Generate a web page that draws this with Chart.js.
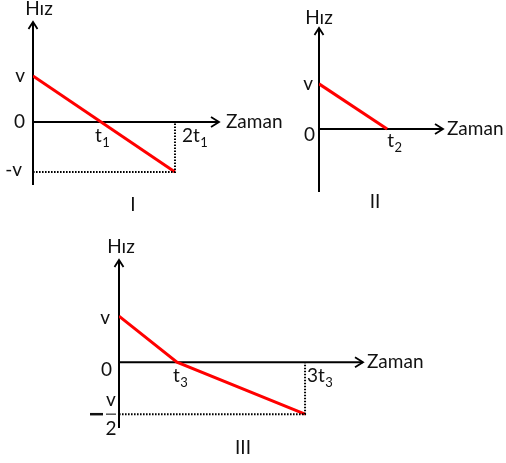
<!DOCTYPE html>
<html>
<head>
<meta charset="utf-8">
<script src="https://cdn.jsdelivr.net/npm/chart.js@4.4.1/dist/chart.umd.min.js"></script>
<style>
  html, body { margin: 0; padding: 0; background: #fff; }
  #wrap { position: relative; width: 506px; height: 463px; }
  #wrap canvas { position: absolute; left: 0; top: 0; }
</style>
</head>
<body>
<div id="wrap">
  <canvas id="chart1" width="506" height="463"></canvas>
  <canvas id="chart2" width="506" height="463"></canvas>
  <canvas id="chart3" width="506" height="463"></canvas>
</div>
<script>
// Grafik I (hız birimi v, zaman birimi t1)
const timesI = [0, 2];
const speedsI = [1, -1.09];
const yTicksI = [1, 0, -1.09];
const yLabelsI = ['v', '0', '-v'];
const xTicksI = [1, 2];
const xLabelsI = ['t_1', '2t_1'];

// Grafik II
const timesII = [0, 1];
const speedsII = [1, 0];
const yTicksII = [1, 0];
const yLabelsII = ['v', '0'];
const xTicksII = [1];
const xLabelsII = ['t_2'];

// Grafik III
const timesIII = [0, 1, 3.21];
const speedsIII = [1, 0, -1.13];
const yTicksIII = [1, 0, -1.13];
const yLabelsIII = ['v', '0', '-v/2'];
const xTicksIII = [1, 3.21];
const xLabelsIII = ['t_3', '3t_3'];

const yTitle = 'Hız';
const xTitle = 'Zaman';

const FONT = 'Lato, "Noto Sans", sans-serif';
const TEXT = '#111';
const RED = '#ff0000';

// Çizim: eksenler ok uçlu, etiketler alt simgeli
function drawText(ctx, str, x, y, align) {
    const parts = str.split('_');
    ctx.font = '19px ' + FONT;
    const wBase = ctx.measureText(parts[0]).width;
    ctx.font = '13px ' + FONT;
    const wSub = parts[1] ? ctx.measureText(parts[1]).width : 0;
    const total = wBase + wSub;
    let x0 = x;
    if (align === 'right') x0 = x - total;
    if (align === 'center') x0 = x - total / 2;
    ctx.textAlign = 'left';
    ctx.textBaseline = 'alphabetic';
    ctx.fillStyle = TEXT;
    ctx.font = '19px ' + FONT;
    ctx.fillText(parts[0], x0, y);
    if (parts[1]) {
        ctx.font = '13px ' + FONT;
        ctx.fillText(parts[1], x0 + wBase + 0.5, y + 5);
    }
}

function drawFraction(ctx, label, xRight, yMid) {
    // "-v/2" -> eksi işareti + kesir
    const [num, den] = label.replace('-', '').split('/');
    const cx = xRight - 4;
    ctx.strokeStyle = '#111';
    ctx.lineWidth = 2.5;
    ctx.beginPath();
    ctx.moveTo(xRight - 25, yMid);
    ctx.lineTo(xRight - 12, yMid);
    ctx.stroke();
    ctx.lineWidth = 1.5;
    ctx.strokeStyle = '#555';
    ctx.beginPath();
    ctx.moveTo(cx - 5, yMid);
    ctx.lineTo(cx + 5, yMid);
    ctx.stroke();
    ctx.fillStyle = TEXT;
    ctx.font = '19px ' + FONT;
    ctx.textAlign = 'center';
    ctx.textBaseline = 'alphabetic';
    ctx.fillText(num, cx, yMid - 8);
    ctx.fillText(den, cx, yMid + 21);
}

const axesPlugin = {
    id: 'kinematicAxes',
    beforeDatasetsDraw(chart, args, o) {
        const ctx = chart.ctx;
        const area = chart.chartArea;
        const ax = chart.scales.x.getPixelForValue(0);
        const ay = chart.scales.y.getPixelForValue(0);
        ctx.save();
        ctx.strokeStyle = '#000';
        ctx.lineWidth = 2;
        ctx.lineCap = 'butt';
        ctx.beginPath();
        ctx.moveTo(ax, area.bottom);
        ctx.lineTo(ax, area.top);
        ctx.moveTo(ax, ay);
        ctx.lineTo(area.right, ay);
        ctx.stroke();
        ctx.lineWidth = 1.8;
        ctx.beginPath();
        ctx.moveTo(ax - 4.5, area.top + 7);
        ctx.lineTo(ax, area.top);
        ctx.lineTo(ax + 4.5, area.top + 7);
        ctx.moveTo(area.right - 8, ay - 5);
        ctx.lineTo(area.right, ay);
        ctx.lineTo(area.right - 8, ay + 5);
        ctx.stroke();
        ctx.restore();
    },
    afterDatasetsDraw(chart, args, o) {
        const ctx = chart.ctx;
        const area = chart.chartArea;
        const sx = chart.scales.x, sy = chart.scales.y;
        const ax = sx.getPixelForValue(0);
        const ay = sy.getPixelForValue(0);
        ctx.save();
        o.yTicks.forEach((v, i) => {
            const label = o.yLabels[i];
            const py = sy.getPixelForValue(v);
            if (label.indexOf('/') >= 0) {
                drawFraction(ctx, label, ax + o.yLabelDx[i], py);
            } else {
                drawText(ctx, label, ax + o.yLabelDx[i], py + 6 + o.yLabelDy[i], 'right');
            }
        });
        o.xTicks.forEach((v, i) => {
            drawText(ctx, o.xLabels[i], sx.getPixelForValue(v) + o.xLabelDx[i], ay + o.xLabelDy, 'left');
        });
        drawText(ctx, yTitle, ax + o.titleDx, area.top + o.titleDy, 'center');
        drawText(ctx, xTitle, area.right + o.zamanDx, ay + 6, 'left');
        drawText(ctx, o.caption, o.captionX, o.captionY, 'center');
        ctx.restore();
    }
};

function makeChart(id, times, speeds, style) {
    const last = times.length - 1;
    const pts = times.map((t, i) => ({ x: t, y: speeds[i] }));
    const datasets = [{
        data: pts,
        borderColor: RED,
        borderWidth: 3,
        pointRadius: 0,
        tension: 0
    }];
    if (speeds[last] < 0) {
        // kesikli yardımcı çizgiler
        datasets.push({
            data: [
                { x: 0, y: speeds[last] },
                { x: times[last], y: speeds[last] },
                { x: times[last], y: 0 }
            ],
            borderColor: '#000',
            borderWidth: 2,
            borderDash: [1.6, 1.4],
            pointRadius: 0,
            tension: 0
        });
        datasets.reverse();
    }
    return new Chart(document.getElementById(id), {
        type: 'line',
        data: { datasets: datasets },
        options: {
            responsive: false,
            animation: false,
            events: [],
            layout: {
                padding: {
                    left: style.area.left,
                    top: style.area.top,
                    right: 506 - style.area.right,
                    bottom: 463 - style.area.bottom
                }
            },
            scales: {
                x: { type: 'linear', display: false, min: style.x[0], max: style.x[1] },
                y: { type: 'linear', display: false, min: style.y[0], max: style.y[1] }
            },
            plugins: {
                legend: { display: false },
                tooltip: { enabled: false },
                kinematicAxes: style
            }
        },
        plugins: [axesPlugin]
    });
}

makeChart('chart1', timesI, speedsI, {
    area: { left: 33, top: 22, right: 219, bottom: 185 },
    x: [0, 2.62], y: [-1.37, 2.17],
    yTicks: yTicksI, yLabels: yLabelsI, yLabelDx: [-8, -8, -11], yLabelDy: [0, 0, -2],
    xTicks: xTicksI, xLabels: xLabelsI, xLabelDx: [-9, 7], xLabelDy: 20,
    titleDx: 6, titleDy: -7, zamanDx: 7,
    caption: 'I', captionX: 133, captionY: 211
});

makeChart('chart2', timesII, speedsII, {
    area: { left: 319, top: 28, right: 443, bottom: 192 },
    x: [0, 1.82], y: [-1.4, 2.24],
    yTicks: yTicksII, yLabels: yLabelsII, yLabelDx: [-6, -4], yLabelDy: [0, 6],
    xTicks: xTicksII, xLabels: xLabelsII, xLabelDx: [0], xLabelDy: 18,
    titleDx: 0, titleDy: -4, zamanDx: 4,
    caption: 'II', captionX: 375, captionY: 208
});

makeChart('chart3', timesIII, speedsIII, {
    area: { left: 119, top: 260, right: 363, bottom: 428 },
    x: [0, 4.21], y: [-1.43, 2.22],
    yTicks: yTicksIII, yLabels: yLabelsIII, yLabelDx: [-9, -7, -4], yLabelDy: [2, 8, 0],
    xTicks: xTicksIII, xLabels: xLabelsIII, xLabelDx: [-4, 2], xLabelDy: 20,
    titleDx: 2, titleDy: -7, zamanDx: 4,
    caption: 'III', captionX: 243, captionY: 454
});
</script>
</body>
</html>
